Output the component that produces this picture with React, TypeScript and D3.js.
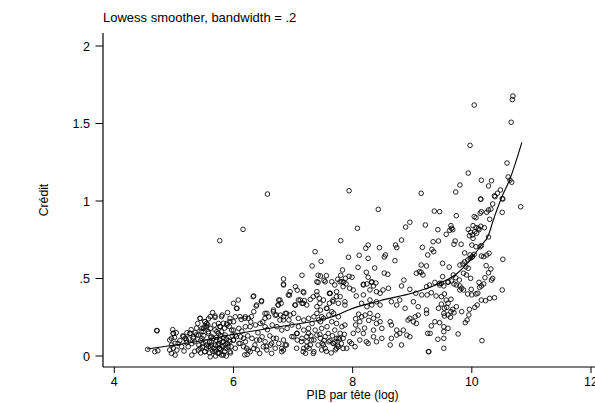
import React from "react";
import * as d3 from "d3";

const titleText = "Lowess smoother, bandwidth = .2";
const xLabel = "PIB par tête (log)";
const yLabel = "Crédit";
const xTicks = [4, 6, 8, 10, 12];
const yTicks = [0, 0.5, 1, 1.5, 2];
const yTickLabels = ["0", ".5", "1", "1.5", "2"];

// Sparse upper points
const pointsTop: [number, number][] = [
  [6.57,1.045],[7.94,1.066],[9.15,1.05],[9.73,1.058],[9.80,1.103],[9.94,1.18],[9.97,1.359],[10.04,1.619],[10.16,1.134],[10.15,1.013],[10.28,1.097],[10.33,1.131],[10.38,1.034],[10.43,1.05],[10.48,1.071],[10.51,1.015],[10.59,1.245],[10.61,1.155],[10.64,1.135],[10.67,1.121],[10.66,1.508],[10.68,1.654],[10.69,1.677],
  [6.16,0.817],[5.77,0.744],[6.84,0.497],[6.84,0.463],
];

// Middle band, x 7-9
const pointsMidA: [number, number][] = [
  [8.43,0.946],[8.08,0.824],[8.89,0.832],[8.96,0.863],[7.80,0.744],[8.82,0.748],[7.37,0.673],[8.26,0.716],[8.22,0.695],[8.45,0.699],[8.72,0.716],[8.74,0.699],[7.93,0.637],[8.11,0.650],[8.26,0.630],[8.53,0.639],[8.55,0.652],[8.71,0.615],[7.47,0.611],[7.32,0.581],[8.09,0.572],[8.37,0.568],[7.83,0.555],[8.23,0.540],[8.53,0.535],[8.59,0.527],[7.15,0.521],[7.42,0.521],[7.46,0.516],[7.56,0.518],[7.80,0.521],[7.94,0.514],[7.99,0.508],[7.88,0.501],[8.26,0.508],[8.86,0.490],[9.07,0.534],[9.12,0.544],[7.75,0.495],[7.82,0.479],[7.85,0.475],[7.42,0.475],[7.52,0.488],[8.18,0.463],[8.32,0.475],[8.39,0.471],
];

// Middle band, x 9-11
const pointsMidB: [number, number][] = [
  [10.15,1.011],[10.39,1.028],[10.35,0.981],[10.52,1.013],[10.82,0.963],[9.37,0.935],[9.46,0.931],[9.74,0.905],[10.16,0.931],[10.14,0.921],[10.28,0.942],[10.25,0.927],[10.32,0.948],[10.51,0.927],[10.04,0.899],[10.07,0.892],[10.30,0.882],[9.22,0.845],[9.43,0.815],[9.65,0.841],[9.66,0.824],[9.63,0.811],[9.68,0.815],[10.02,0.841],[10.07,0.828],[9.94,0.817],[10.11,0.824],[10.15,0.837],[10.12,0.815],[10.21,0.828],[9.98,0.798],[10.01,0.781],[9.96,0.776],[10.05,0.802],[10.08,0.792],[9.57,0.785],[10.28,0.768],[10.02,0.759],[9.35,0.737],[9.44,0.742],[9.72,0.742],[9.70,0.721],[9.82,0.721],[10.00,0.716],[10.07,0.705],[10.14,0.705],[10.16,0.712],[9.17,0.701],[9.33,0.688],[9.36,0.673],[9.26,0.652],[9.88,0.665],[9.97,0.652],[10.01,0.641],[10.04,0.656],[10.16,0.645],[10.20,0.641],[10.25,0.652],[10.29,0.663],[10.52,0.624],[9.51,0.598],[9.80,0.587],[9.85,0.594],[9.88,0.608],[9.93,0.619],[9.97,0.630],[10.00,0.637],[9.15,0.587],[9.24,0.581],[9.62,0.574],[9.90,0.576],[9.94,0.566],[10.24,0.583],[9.86,0.534],[9.91,0.523],[9.98,0.501],[10.28,0.537],[10.32,0.561],[9.15,0.540],[9.18,0.523],[9.51,0.512],[9.69,0.523],[9.73,0.505],[9.79,0.490],[10.22,0.505],[10.12,0.475],[10.35,0.501],[9.38,0.475],[9.46,0.469],[9.60,0.475],[9.66,0.484],
];

// Lower band, x 9.2-10.6
const pointsLowRight: [number, number][] = [
  [9.29,0.458],[9.46,0.458],[9.49,0.469],[9.53,0.452],[9.60,0.479],[9.70,0.465],[9.74,0.458],[9.80,0.452],[9.83,0.437],[9.86,0.426],[9.80,0.426],[9.99,0.430],[10.16,0.452],[10.20,0.465],[10.13,0.443],[10.33,0.490],[10.51,0.426],[9.93,0.400],[10.00,0.394],[10.07,0.400],[10.10,0.405],[10.16,0.361],[10.23,0.357],[10.30,0.372],[10.38,0.376],[9.32,0.408],[9.40,0.387],[9.49,0.383],[9.54,0.400],[9.57,0.361],[9.65,0.366],[9.60,0.340],[9.49,0.335],[9.74,0.318],[9.68,0.301],[9.65,0.286],[9.54,0.308],[9.83,0.286],[9.96,0.301],[10.05,0.314],[10.09,0.329],[9.95,0.265],[9.92,0.232],[9.89,0.215],[9.53,0.275],[9.60,0.265],[9.54,0.258],[9.64,0.250],[9.70,0.279],[9.38,0.221],[9.46,0.215],[9.32,0.194],[9.53,0.189],[9.60,0.179],[9.53,0.157],[9.77,0.142],[9.26,0.146],[9.43,0.108],[9.53,0.114],[10.17,0.099],[9.53,0.050],[9.28,0.028],[9.44,0.308],[9.58,0.314],
];

// Lower band, x 7.6-9.3
const pointsLowMid: [number, number][] = [
  [7.65,0.479],[7.70,0.458],[7.79,0.479],[7.84,0.447],[7.89,0.465],[7.95,0.437],[8.01,0.426],
  [8.18,0.458],[8.24,0.465],[8.32,0.479],[8.35,0.452],[8.29,0.426],[8.40,0.415],[8.46,0.405],[8.51,0.426],[8.60,0.437],
  [8.82,0.452],[8.96,0.430],[9.06,0.405],[9.16,0.394],[9.24,0.447],[9.25,0.394],
  [7.62,0.405],[7.73,0.415],[7.79,0.383],[7.67,0.361],[7.76,0.340],[7.87,0.329],[7.87,0.350],
  [8.06,0.387],[8.18,0.394],[8.29,0.361],[8.40,0.350],[8.46,0.329],[8.32,0.329],[8.24,0.318],[8.15,0.340],[8.79,0.361],[8.88,0.308],[8.65,0.350],[8.74,0.329],[9.02,0.350],[9.10,0.318],[9.24,0.297],[9.24,0.275],
  [7.68,0.275],[7.76,0.253],[7.65,0.221],[7.73,0.210],[7.82,0.189],[7.87,0.200],[7.70,0.167],[7.79,0.146],[7.73,0.114],[7.84,0.114],[7.68,0.081],[7.76,0.060],[7.84,0.049],[7.95,0.092],[8.01,0.146],[8.09,0.167],[8.12,0.221],[8.15,0.253],[8.21,0.264],[8.29,0.275],[8.35,0.243],[8.40,0.210],[8.35,0.167],[8.46,0.221],[8.49,0.178],[8.35,0.124],[8.23,0.092],[8.18,0.146],[8.12,0.103],[8.26,0.081],[8.40,0.092],[8.49,0.114],[8.63,0.221],[8.65,0.200],[8.74,0.167],[8.79,0.146],[8.85,0.167],[8.91,0.135],[8.96,0.124],[8.96,0.243],[9.02,0.221],[9.07,0.210],[8.93,0.232],[9.05,0.253],[9.10,0.264],[8.63,0.071],[8.82,0.071],[8.74,0.135],[8.65,0.114],[9.30,0.146],[9.27,0.028],[7.98,0.081],[8.04,0.060],
];

// Lower band, x 6-7.6
const pointsLowLeftMid: [number, number][] = [
  [6.84,0.458],[7.04,0.447],[6.95,0.415],[6.94,0.393],[7.07,0.425],[7.18,0.408],[7.09,0.361],[7.15,0.340],[7.19,0.357],[7.29,0.365],[6.76,0.361],[6.80,0.340],[6.75,0.329],[7.40,0.479],[7.54,0.479],[7.40,0.393],[7.44,0.372],[7.61,0.404],[7.61,0.340],[7.57,0.307],[7.40,0.318],[7.46,0.296],[7.04,0.329],[6.34,0.387],[6.47,0.357],[6.38,0.322],[6.06,0.307],[6.34,0.286],[6.20,0.253],[6.13,0.236],[6.03,0.253],[6.00,0.221],[6.25,0.243],
  [6.53,0.275],[6.59,0.253],[6.67,0.286],[6.70,0.264],[6.79,0.264],[6.87,0.275],[6.95,0.264],[7.01,0.275],[6.93,0.232],[6.84,0.232],[7.09,0.243],[7.18,0.232],[7.26,0.243],[7.35,0.253],[7.43,0.232],[7.51,0.243],[7.60,0.264],[7.32,0.210],[7.46,0.221],[6.37,0.200],[6.45,0.210],[6.53,0.189],[6.28,0.189],[6.20,0.189],[6.09,0.178],[6.00,0.167],[6.65,0.200],[6.73,0.189],[6.81,0.167],[6.90,0.178],[6.98,0.200],[7.09,0.189],[7.18,0.167],[7.26,0.178],[7.37,0.167],[7.48,0.178],[7.57,0.189],
  [6.03,0.135],[6.12,0.124],[6.00,0.103],[6.09,0.081],[6.20,0.092],[6.17,0.060],[6.25,0.038],[6.34,0.049],[6.31,0.114],[6.39,0.103],[6.48,0.124],[6.53,0.092],[6.62,0.071],[6.67,0.114],[6.76,0.081],[6.81,0.049],[6.87,0.071],[6.84,0.038],[7.01,0.124],[7.07,0.103],[7.15,0.114],[7.23,0.092],[7.18,0.049],[7.21,0.017],[7.29,0.071],[7.35,0.103],[7.40,0.135],[7.46,0.114],[7.49,0.081],[7.54,0.049],[7.60,0.092],[7.35,0.028],[7.51,0.071],[7.07,0.146],[7.26,0.146],
];

// Lower band, x 4.5-6
const pointsLowLeft: [number, number][] = [
  [4.56,0.043],[4.68,0.028],[4.73,0.034],[4.72,0.163],[4.93,0.039],[4.96,0.017],[4.99,0.050],
  [4.93,0.103],[4.99,0.146],[5.01,0.120],[4.96,0.071],[5.05,0.038],[5.02,0.006],[5.07,0.081],[5.13,0.060],[5.19,0.114],[5.21,0.086],[5.17,0.032],[5.27,0.146],[5.33,0.124],[5.30,0.006],[5.24,0.060],[5.41,0.135],[5.44,0.243],[5.52,0.221],[5.55,0.210],[5.47,0.114],[5.49,0.081],[5.41,0.038],[5.52,0.028],[5.58,0.146],[5.61,0.178],[5.69,0.249],[5.66,0.114],[5.72,0.157],[5.75,0.210],[5.77,0.049],[5.81,0.264],[5.83,0.092],[5.80,0.006],[5.86,0.135],[5.89,0.210],[5.91,0.060],[5.94,0.243],[5.97,0.167],[6.00,0.103],[5.69,0.028],[5.61,-0.005],[5.35,0.092],[5.63,0.071],[5.55,0.071],[5.80,0.157],[5.75,0.081],
  [5.45,0.10],[5.50,0.13],[5.55,0.05],[5.60,0.09],[5.62,0.12],[5.65,0.03],[5.70,0.07],[5.72,0.10],[5.78,0.13],[5.82,0.06],[5.85,0.03],[5.88,0.11],[5.90,0.08],[5.95,0.02],[5.98,0.13],[5.68,0.20],[5.78,0.19],[5.85,0.18],[5.93,0.19],[5.58,0.24],[5.65,0.28],[5.90,0.28],[5.50,0.18],[5.38,0.18],[5.30,0.08],[5.22,0.15],[5.15,0.13],[5.10,0.10],[5.04,0.15],[4.98,0.17],[5.35,0.03],[5.45,0.02],
];

// Extra detail, x 4.7-7.8
const pointsDense: [number, number][] = [
  [4.71,0.164],[4.99,0.146],[4.96,0.114],[5.02,0.082],[5.16,0.125],[5.21,0.103],[5.27,0.146],[5.33,0.114],[5.38,0.136],
  [5.44,0.243],[5.52,0.222],[5.55,0.189],[5.61,0.254],[5.69,0.258],[5.80,0.254],
  [5.47,0.179],[5.49,0.157],[5.58,0.157],[5.63,0.125],[5.69,0.168],[5.75,0.146],[5.77,0.190],[5.83,0.211],[5.89,0.200],[5.94,0.222],
  [6.05,0.308],[6.11,0.254],[6.19,0.243],[6.30,0.254],[6.33,0.383],[6.39,0.329],[6.47,0.351],[6.00,0.340],[6.08,0.361],
  [6.56,0.275],[6.53,0.243],[6.67,0.297],[6.72,0.265],[6.78,0.232],[6.84,0.254],[6.89,0.275],
  [6.78,0.361],[6.75,0.329],[6.92,0.394],[7.03,0.329],[7.17,0.415],[7.12,0.361],[7.17,0.340],[7.23,0.329],[7.34,0.383],[7.40,0.415],[7.45,0.340],[7.51,0.361],[7.62,0.404],[7.67,0.351],[7.73,0.383],[7.56,0.308],[7.65,0.286],[7.40,0.275],[7.48,0.254],
  [5.44,0.050],[5.52,0.028],[5.61,0.060],[5.69,0.039],[5.77,0.050],[5.86,0.071],[5.74,0.017],[5.83,0.007],[5.94,0.028],[6.03,0.050],[6.11,0.082],[6.17,0.114],[6.22,0.050],[6.28,0.028],[6.19,0.007],[6.36,0.071],[6.44,0.103],[6.50,0.060],[6.56,0.039],[6.64,0.082],[6.70,0.050],[6.72,0.114],[6.84,0.103],[6.89,0.071],[6.98,0.125],[7.06,0.146],[7.14,0.093],[7.17,0.028],[7.23,0.060],[7.31,0.103],[7.34,0.017],[7.42,0.071],[7.48,0.039],[7.54,0.125],[7.59,0.146],[7.67,0.082],[7.73,0.050],[7.76,0.114],[7.23,0.125],[7.06,0.050],[6.81,0.028],[6.64,0.017],[6.44,0.017],[5.94,0.093],[6.05,0.125],[5.77,0.103],
];

// Dense clusters
const pointsClusters: [number, number][] = [
  [5.58,0.06],[5.63,0.09],[5.67,0.05],[5.71,0.12],[5.74,0.07],[5.79,0.04],[5.81,0.09],[5.84,0.12],[5.87,0.05],[5.92,0.10],[5.96,0.06],[5.53,0.09],[5.48,0.06],[5.60,0.02],[5.70,0.00],[5.88,0.00],[5.76,0.02],
  [5.25,0.11],[5.29,0.17],[5.36,0.15],[5.40,0.21],[5.46,0.16],[5.52,0.19],[5.57,0.20],[5.42,0.07],
  [7.62,0.10],[7.66,0.13],[7.70,0.09],[7.75,0.07],[7.78,0.11],[7.81,0.08],[7.86,0.14],[7.90,0.05],[7.56,0.03],[7.64,0.02],[7.71,0.04],[7.45,0.14],[7.52,0.10],[7.30,0.13],[7.27,0.05],
  [6.14,0.16],[6.24,0.13],[6.29,0.22],[6.41,0.15],[6.49,0.22],[6.57,0.17],[6.61,0.13],[6.23,0.01],[6.40,0.04],[6.55,0.06],
  [8.05,0.20],[8.10,0.27],[8.20,0.18],[8.27,0.23],[8.42,0.26],[8.05,0.24],
];

// Lowess smoother
const lowessX = [4.55, 5.02, 5.44, 5.94, 6.44, 6.95, 7.37, 7.70, 7.95, 8.46, 9.02, 9.46, 9.74, 9.97, 10.14, 10.28, 10.36, 10.44, 10.53, 10.61, 10.84];
const lowessY = [0.045, 0.071, 0.097, 0.135, 0.168, 0.200, 0.226, 0.258, 0.300, 0.357, 0.408, 0.469, 0.529, 0.619, 0.705, 0.781, 0.877, 0.963, 1.050, 1.114, 1.379];

const W = 595;
const H = 403;
const FONT = "'Liberation Sans', Arial, Helvetica, sans-serif";

export default function App() {
  const x = d3.scaleLinear().domain([4, 12]).range([114.3, 591]);
  const y = d3.scaleLinear().domain([0, 2]).range([356, 46]);
  const axisLeft = 103;
  const axisBottom = 367;
  const axisTop = 33;

  const allPoints = [
    ...pointsTop, ...pointsMidA, ...pointsMidB, ...pointsLowRight,
    ...pointsLowMid, ...pointsLowLeftMid, ...pointsLowLeft, ...pointsDense, ...pointsClusters,
  ];

  const lowess = lowessX.map((v, i) => [v, lowessY[i]] as [number, number]);
  const line = d3.line<[number, number]>()
    .x((d) => x(d[0]))
    .y((d) => y(d[1]))
    .curve(d3.curveMonotoneX);

  return (
    <div style={{ position: "fixed", left: 0, top: 0, width: W, height: H, background: "#fff" }}>
      <svg width={W} height={H} style={{ display: "block" }} fontFamily={FONT}>
        <rect x={0} y={0} width={W} height={H} fill="#fff" />
        <text x={103} y={22} fontSize={13} fill="#000">{titleText}</text>

        {/* Points */}
        <g fill="none" stroke="#000" strokeWidth={0.85}>
          {allPoints.map((d, i) => (
            <circle key={i} cx={x(d[0])} cy={y(d[1])} r={2.3} />
          ))}
        </g>

        {/* Lowess line */}
        <path d={line(lowess) || ""} fill="none" stroke="#000" strokeWidth={1.1} />

        {/* Axes */}
        <line x1={axisLeft} x2={axisLeft} y1={axisTop} y2={axisBottom} stroke="#000" strokeWidth={1.2} />
        <line x1={axisLeft} x2={W + 10} y1={axisBottom} y2={axisBottom} stroke="#000" strokeWidth={1.2} />

        {yTicks.map((t, i) => (
          <g key={"yt" + i}>
            <line x1={95.5} x2={axisLeft} y1={y(t)} y2={y(t)} stroke="#000" strokeWidth={1} />
            <text x={90} y={y(t) + 4.5} textAnchor="end" fontSize={12.6} fill="#000">{yTickLabels[i]}</text>
          </g>
        ))}
        {xTicks.map((t, i) => (
          <g key={"xt" + i}>
            <line x1={x(t)} x2={x(t)} y1={axisBottom} y2={axisBottom + 6} stroke="#000" strokeWidth={1} />
            <text x={x(t)} y={385.5} textAnchor="middle" fontSize={12.4} fill="#000">{String(t)}</text>
          </g>
        ))}

        <text x={352.5} y={399} textAnchor="middle" fontSize={12.2} fill="#000">{xLabel}</text>
        <text transform={`translate(48,200) rotate(-90)`} textAnchor="middle" fontSize={12.2} fill="#000">{yLabel}</text>
      </svg>
    </div>
  );
}
